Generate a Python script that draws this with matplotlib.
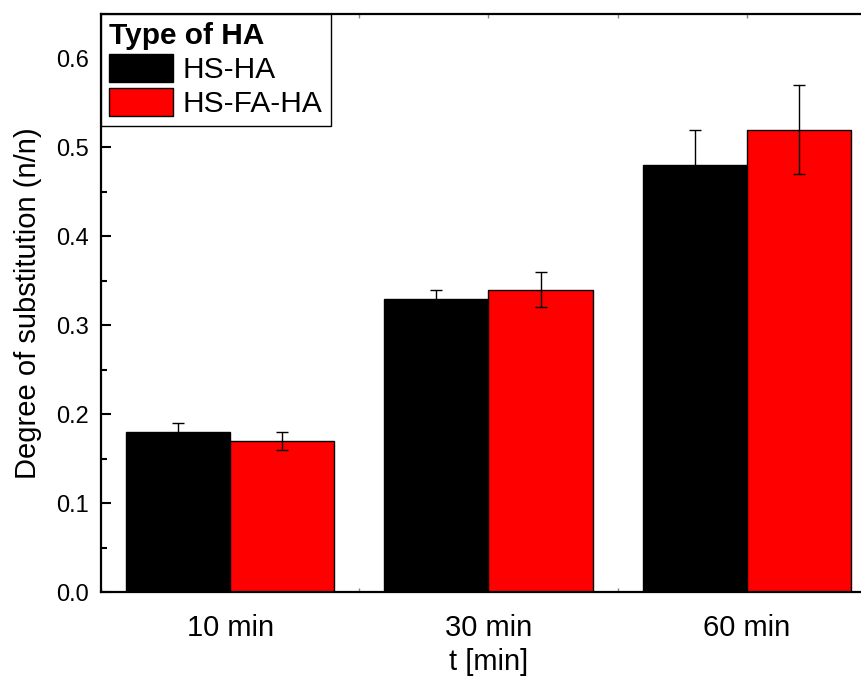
import numpy as np
import matplotlib.pyplot as plt
from matplotlib.ticker import MultipleLocator

plt.rcParams['font.family'] = ['Liberation Sans', 'DejaVu Sans']

# degree of substitution per reaction time
times = ['10 min', '30 min', '60 min']
hs_ha = [0.18, 0.33, 0.48]
hs_ha_err = [0.01, 0.01, 0.04]
hs_fa_ha = [0.17, 0.34, 0.52]
hs_fa_ha_err = [0.01, 0.02, 0.05]

fig = plt.figure(figsize=(8.62, 6.78), dpi=100)
# axes runs a little past the right edge of the figure
ax = fig.add_axes([0.1172, 0.1268, 0.899, 0.8525])

x = np.arange(len(times))
w = 0.403
ax.set_axisbelow(True)
ax.bar(x - w / 2, hs_ha, w, color='black', edgecolor='black', lw=1,
       yerr=hs_ha_err, capsize=4.3, error_kw=dict(elinewidth=1, capthick=1, ecolor='black'),
       label='HS-HA')
ax.bar(x + w / 2, hs_fa_ha, w, color='#ff0000', edgecolor='black', lw=1,
       yerr=hs_fa_ha_err, capsize=4.3, error_kw=dict(elinewidth=1, capthick=1, ecolor='black'),
       label='HS-FA-HA')

ax.set_xlim(-0.5, 2.5)
ax.set_ylim(0, 0.65)
ax.set_xticks(x)
ax.set_xticklabels(times, fontsize=21)
ax.xaxis.set_minor_locator(MultipleLocator(0.5))
ax.yaxis.set_major_locator(MultipleLocator(0.1))
ax.yaxis.set_minor_locator(MultipleLocator(0.05))
ax.yaxis.set_major_formatter(plt.FormatStrFormatter('%.1f'))

ax.tick_params(axis='y', which='major', direction='in', length=7, width=1.5, labelsize=17, pad=9)
ax.tick_params(axis='y', which='minor', direction='in', length=4, width=1.5)
ax.tick_params(axis='x', which='both', direction='in', length=3, width=1, color='#888888',
               top=True, pad=16)

for s in ax.spines.values():
    s.set_linewidth(1.6)

ax.set_xlabel('t [min]', fontsize=21, labelpad=4)
ax.set_ylabel('Degree of substitution (n/n)', fontsize=21, labelpad=10)

leg = ax.legend(loc='upper left', borderaxespad=0, fontsize=21.5, title='Type of HA',
                title_fontproperties={'weight': 'bold', 'size': 21.5}, alignment='left',
                fancybox=False, edgecolor='black', framealpha=1,
                handlelength=2.14, handleheight=1.07, handletextpad=0.33,
                labelspacing=0.13, borderpad=0.27)
leg.get_frame().set_linewidth(1)

fig.savefig('out.png', dpi=100)
